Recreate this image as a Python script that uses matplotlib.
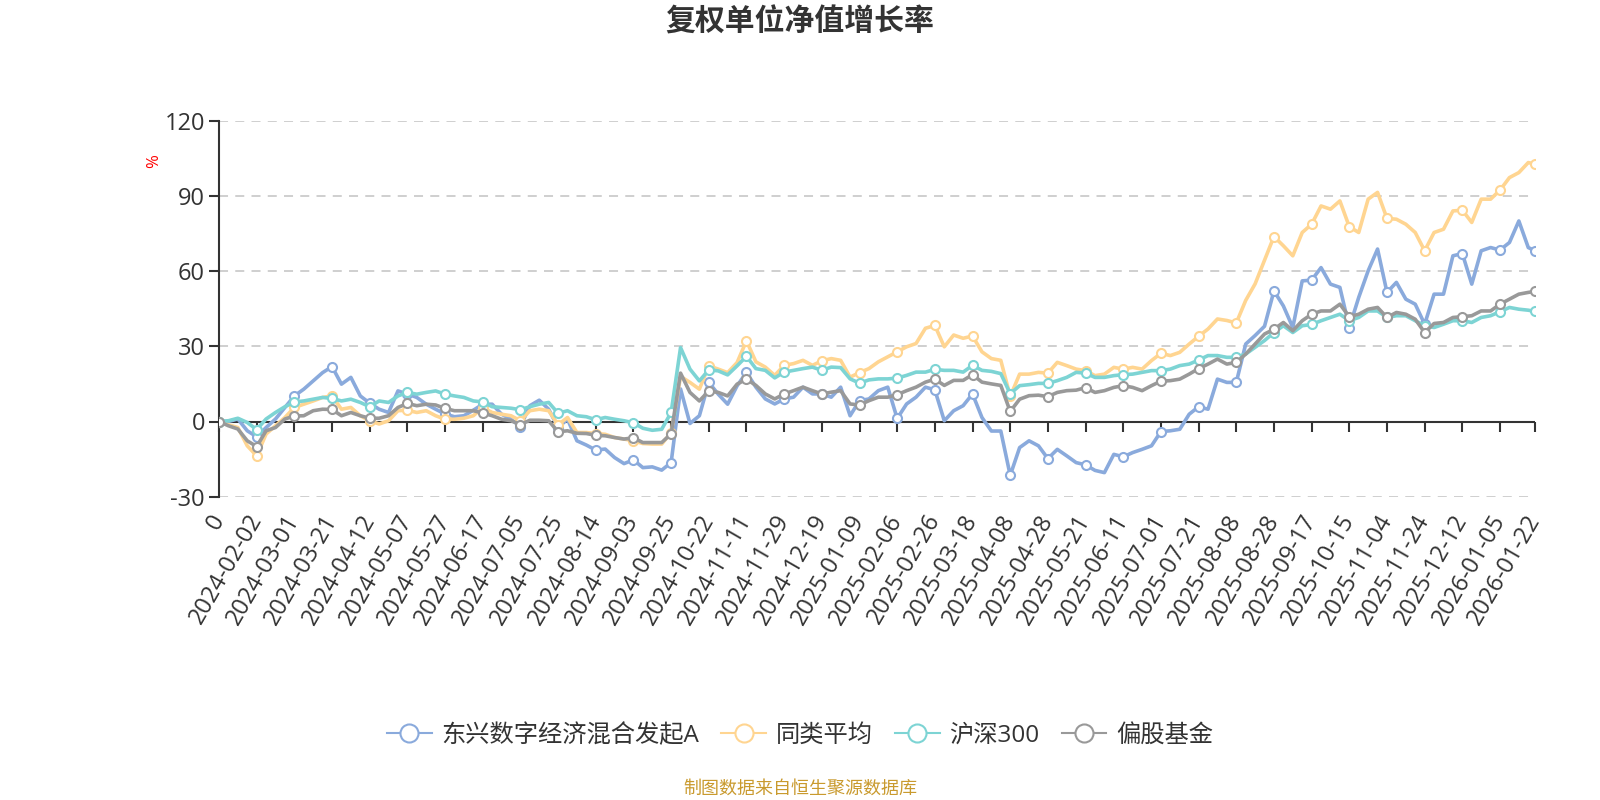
import matplotlib

matplotlib.use("Agg")

import matplotlib.pyplot as plt
import numpy as np

plt.rcParams["font.family"] = ["Open Sans", "Noto Sans CJK SC", "DejaVu Sans"]
plt.rcParams["axes.unicode_minus"] = False

# x axis: trading-day index, one label every 14 trading days
tick_idx = list(range(0, 477, 14)) + [489]
tick_labels = [
    "0", "2024-02-02", "2024-03-01", "2024-03-21", "2024-04-12", "2024-05-07",
    "2024-05-27", "2024-06-17", "2024-07-05", "2024-07-25", "2024-08-14",
    "2024-09-03", "2024-09-25", "2024-10-22", "2024-11-11", "2024-11-29",
    "2024-12-19", "2025-01-09", "2025-02-06", "2025-02-26", "2025-03-18",
    "2025-04-08", "2025-04-28", "2025-05-21", "2025-06-11", "2025-07-01",
    "2025-07-21", "2025-08-08", "2025-08-28", "2025-09-17", "2025-10-15",
    "2025-11-04", "2025-11-24", "2025-12-12", "2026-01-05", "2026-01-22",
]

# values every 3.5 trading days (4 per label step) + last day
sample_idx = list(np.arange(140) * 3.5) + [489]

fund = [
    0, 0, 1, -3.7, -6.1, -2.4, 1, 5.6, 10.2, 12.9, 16.2, 19.5,
    21.9, 14.9, 17.6, 10.2, 7.3, 4.9, 3.6, 12.2, 11, 9.6, 6.9, 4.9,
    3, 1.9, 2.3, 4.5, 6.9, 6.9, 2.9, 0.9, -2.1, 6.3, 8.5, 4.9,
    -2.4, 0.9, -7.7, -9.4, -11.4, -11, -14.4, -16.8, -15.3, -18.4, -18.1, -19.4,
    -16.4, 13, -0.8, 2.3, 15.6, 10.9, 6.9, 14.2, 19.6, 13.7, 9, 7,
    9, 9.7, 13.7, 11, 11, 9.7, 13.7, 2.3, 8.3, 9, 12.3, 13.7,
    1.2, 7, 9.7, 13.7, 12.6, 0.3, 4.3, 6.3, 11, 1.6, -3.8, -3.8,
    -21.5, -10.4, -7.7, -9.7, -14.8, -11.1, -13.7, -16.4, -17.3, -19.5, -20.4, -13.1,
    -14.1, -12.4, -11.1, -9.7, -4, -3.7, -3.1, 2.9, 5.9, 4.9, 16.9, 15.6,
    15.6, 30.9, 34.3, 38, 52.1, 46.1, 37.5, 56.1, 56.4, 61.4, 54.8, 53.5,
    37.5, 49.5, 60.1, 68.8, 51.5, 55.5, 48.8, 46.8, 38.8, 50.8, 50.8, 66.1,
    67, 54.8, 68.1, 69.4, 68.4, 71.4, 80, 69.4, 68.1,
]
peer_avg = [
    0, -1.3, -2.4, -9.7, -13.7, -5, -1.7, 1.6, 5.6, 6.9, 8.2, 9.6,
    10.2, 4.9, 5.6, 2.3, 0.3, -1, 0.3, 4.3, 4.5, 3.6, 4.3, 2.3,
    0.9, 0.9, 1.3, 2.3, 5.5, 3.6, 2.9, 2.3, 0.3, 4.3, 4.9, 4.3,
    -1.3, 1.6, -4.4, -4.4, -4.8, -5.1, -6.4, -7, -7.7, -8.8, -9, -9,
    -4.4, 18, 15.6, 12.9, 22.2, 20.9, 19.5, 23.5, 32.2, 23.8, 21.7, 18.4,
    22.4, 23.1, 24.4, 22.4, 24.2, 25.1, 24.4, 17.7, 19.5, 21.1, 23.8, 25.8,
    27.8, 29.8, 31.1, 37.2, 38.3, 29.8, 34.5, 33.2, 34.1, 27.8, 25.1, 24.4,
    10, 18.9, 18.9, 19.6, 19.3, 23.6, 22.3, 20.9, 20.3, 18.3, 18.9, 21.6,
    20.9, 21.6, 20.9, 24.3, 27.2, 26.3, 27.6, 30.9, 34, 36.9, 40.9, 40.3,
    39.3, 48.3, 54.9, 64.3, 73.8, 70.1, 66.1, 75.4, 78.7, 86, 84.7, 88,
    77.7, 75.4, 88.7, 91.4, 81, 80.7, 78.7, 75.4, 68.1, 75.4, 76.7, 84,
    84.3, 79.4, 88.7, 88.7, 92.3, 97.3, 99.3, 103.3, 102.7,
]
hs300 = [
    0, 0.3, 1.3, -0.4, -3.2, 1, 3.6, 5.9, 7.8, 8.2, 8.9, 9.6,
    9.2, 8.2, 8.9, 7.6, 5.9, 8.2, 7.6, 10.2, 11.6, 10.9, 11.6, 12.2,
    10.9, 10.2, 9.6, 8.2, 7.8, 5.9, 5.6, 5.3, 4.7, 5.9, 6.9, 7.6,
    3.3, 4.3, 2.3, 1.9, 0.7, 1.6, 0.9, 0.3, -0.5, -2.7, -3.5, -3.1,
    3.6, 29.5, 20.9, 16.2, 20.6, 20.2, 18.6, 22.2, 26, 21.1, 20.4, 17.4,
    19.7, 20.4, 21.1, 21.7, 20.4, 21.7, 21.5, 17, 15.3, 16.6, 17, 17,
    17.3, 18.4, 19.7, 19.7, 20.8, 20.4, 20.4, 19.7, 22.4, 20.4, 20, 19.1,
    11.1, 14.3, 14.7, 15.2, 15.2, 16.3, 17.6, 19.6, 19.3, 17.6, 17.6, 18.3,
    18.7, 18.9, 19.6, 20.3, 20.3, 20.9, 22.3, 22.9, 24.5, 26.3, 26.3, 25.6,
    25.6, 26.9, 29.6, 32.3, 35.5, 38.2, 35.5, 38.2, 38.7, 40.2, 41.5, 42.8,
    40.2, 41.5, 44.1, 44.1, 41.5, 42.2, 42.2, 40.2, 38.2, 37.5, 38.8, 40.2,
    40.2, 39.5, 41.5, 42.2, 43.8, 45.5, 44.8, 44.4, 43.9,
]
equity_funds = [
    0, -1.7, -3, -7.7, -10, -3.7, -2.4, 1, 2.2, 2.3, 4.3, 4.9,
    4.8, 2.3, 3.6, 2.3, 1.3, 1.3, 2.3, 5.6, 7.2, 6.3, 6.9, 6.6,
    5.2, 4.3, 4.3, 4.3, 3.4, 2.3, 0.9, 0.3, -1.2, 0.5, 0.5, 0.3,
    -4.1, -3.7, -4.7, -4.8, -5.5, -5.7, -6.4, -7, -6.5, -8.4, -8.4, -8.4,
    -4.9, 19.3, 11.6, 8.2, 12.2, 11.6, 10.2, 14.9, 16.9, 14.4, 11, 9,
    11, 12.3, 13.7, 12.3, 11, 11.7, 12.3, 7, 6.6, 8.3, 9.7, 9.7,
    10.7, 12.3, 13.7, 15.7, 16.9, 14.4, 16.4, 16.4, 18.7, 15.7, 15, 14.4,
    4, 8.9, 10.3, 10.5, 9.9, 11.6, 12.3, 12.5, 13.5, 11.6, 12.3, 13.6,
    14.3, 13.6, 12.3, 14.3, 16.1, 16.3, 16.9, 18.9, 21.1, 22.9, 24.9, 22.9,
    23.6, 26.9, 30.9, 34.9, 36.8, 39.5, 36.2, 40.2, 42.8, 44.1, 44.1, 46.8,
    41.8, 42.8, 44.8, 45.5, 41.5, 43.5, 42.8, 40.8, 35.5, 39.1, 39.5, 41.5,
    41.8, 42.2, 44.1, 44.1, 46.8, 48.8, 50.8, 51.5, 51.9,
]

series = [
    ("东兴数字经济混合发起A", fund, "#8aaadc"),
    ("同类平均", peer_avg, "#ffd591"),
    ("沪深300", hs300, "#7dd4d4"),
    ("偏股基金", equity_funds, "#999999"),
]

fig = plt.figure(figsize=(16, 8), dpi=100)
ax = fig.add_axes([219 / 1600, 1 - 496.7 / 800, 1316 / 1600, 376 / 800])

marks = list(range(0, 140, 4)) + [140]
for i, (name, vals, color) in enumerate(series):
    ax.plot(sample_idx, vals, color=color, lw=2.6, zorder=3 + i,
            marker="o", markevery=marks, markersize=6.5,
            markerfacecolor="white", markeredgecolor=color, markeredgewidth=1.5,
            solid_joinstyle="round", label=name)

ax.set_xlim(0, 489)
ax.set_ylim(-30, 120)
ax.set_yticks([-30, 0, 30, 60, 90, 120])
ax.yaxis.grid(True, linestyle=(0, (5, 4)), color="#cccccc", lw=1.3, zorder=0)
ax.set_axisbelow(True)
# the zero line is the category axis itself, not a grid line
ax.yaxis.get_gridlines()[1].set_visible(False)
ax.axhline(0, color="#333333", lw=1.5, zorder=2)

for side in ["top", "right", "bottom"]:
    ax.spines[side].set_visible(False)
ax.spines["left"].set_color("#333333")
ax.spines["left"].set_linewidth(1.5)
ax.tick_params(axis="y", length=7, width=1.5, color="#333333", labelsize=17,
               labelcolor="#333333", pad=3)

# category labels below the plot
ax.set_xticks(tick_idx)
ax.set_xticklabels(tick_labels, rotation=60, ha="right", va="center",
                   rotation_mode="anchor")
ax.tick_params(axis="x", length=0, labelsize=17, labelcolor="#333333", pad=14)

# tick marks hanging from the zero line
try:
    zero_ax = ax.secondary_xaxis(0, transform=ax.transData)
except TypeError:
    zero_ax = ax.secondary_xaxis(0.2)
zero_ax.set_xticks(tick_idx)
zero_ax.set_xticklabels([])
zero_ax.tick_params(axis="x", length=7, width=1.5, color="#333333")
zero_ax.spines["bottom"].set_visible(False)

ax.text(-0.049, 0.893, "%", transform=ax.transAxes, rotation=90, color="red",
        fontsize=12, ha="center", va="center")

fig.text(0.5, 1 - 23 / 800, "复权单位净值增长率", ha="center", va="center",
         fontsize=21.5, fontweight="bold", color="#333333")

leg = fig.legend(loc="center", bbox_to_anchor=(0.5, 1 - 736 / 800), ncol=4,
                 frameon=False, fontsize=17.5, handlelength=1.85,
                 handletextpad=0.4, columnspacing=0.9, labelcolor="#333333")
for h in leg.legend_handles:
    h.set_markersize(13)
    h.set_linewidth(1.5)
    h.set_markeredgewidth(1.5)

fig.text(0.5, 1 - 789 / 800, "制图数据来自恒生聚源数据库", ha="center", va="center",
         fontsize=13, color="#c99a2e")

fig.savefig("out.png", dpi=100)
